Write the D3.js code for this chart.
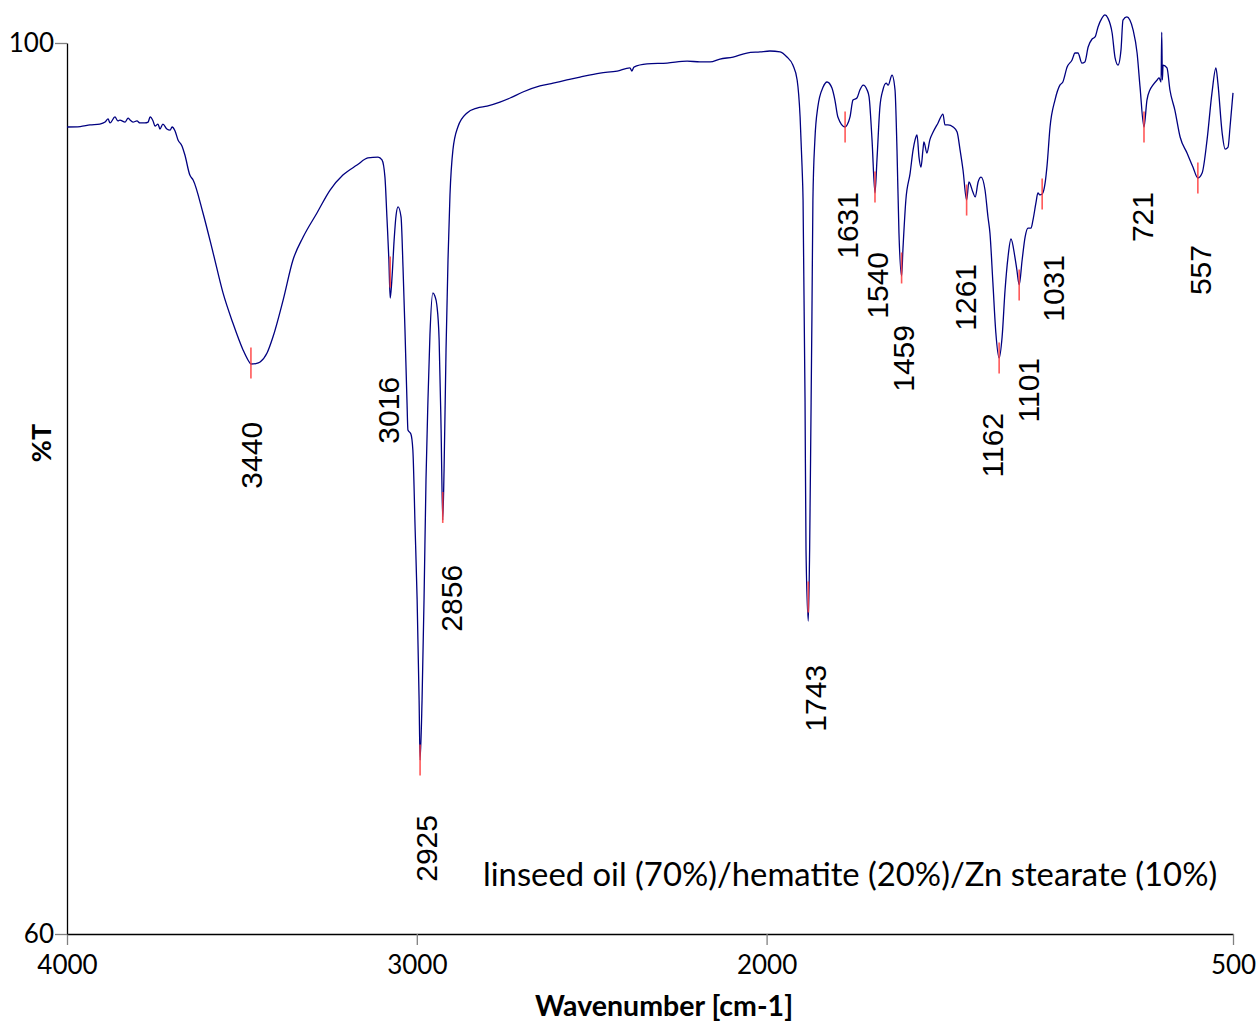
<!DOCTYPE html>
<html><head><meta charset="utf-8">
<script src="https://cdn.jsdelivr.net/npm/d3@7"></script>
<style>body{margin:0;background:#fff}svg{display:block}</style>
</head><body>
<svg id="chart" width="1260" height="1026"></svg>
<script>
// ---- data (wavenumber in cm-1, %T) ----
const wavenumber = [4000,3960,3930,3900,3884,3875,3869,3854,3845,3839,3823,3814,3808,3799,3787,3778,3763,3753,3747,3738,3732,3723,3717,3708,3696,3686,3680,3671,3662,3650,3641,3626,3616,3586,3555,3525,3495,3464,3449,3440,3425,3412,3391,3373,3342,3312,3281,3239,3199,3160,3117,3084,3053,3041,3032,3026,3020,3016,3010,3004,2998,2992,2983,2977,2971,2965,2962,2953,2947,2940,2934,2928,2925,2919,2913,2907,2901,2895,2886,2880,2874,2867,2861,2856,2852,2846,2840,2834,2825,2810,2782,2752,2721,2682,2651,2612,2560,2520,2478,2438,2377,2325,2286,2280,2274,2234,2173,2112,2073,2042,2012,1972,1930,1890,1860,1829,1808,1790,1777,1768,1762,1759,1753,1750,1743,1739,1735,1732,1729,1723,1714,1698,1686,1671,1662,1653,1631,1625,1616,1607,1595,1586,1576,1564,1558,1549,1540,1534,1525,1516,1506,1500,1488,1479,1473,1467,1459,1455,1446,1433,1424,1418,1412,1406,1400,1394,1391,1382,1373,1363,1348,1333,1327,1318,1302,1290,1281,1272,1261,1254,1242,1235,1226,1217,1205,1196,1190,1181,1172,1162,1153,1144,1135,1126,1114,1108,1101,1092,1083,1074,1065,1059,1050,1044,1038,1031,1022,1016,1007,992,977,968,955,940,931,922,910,901,891,879,870,861,849,840,831,818,809,800,791,785,773,764,754,742,733,721,712,703,694,681,675,669,667,665,663,651,642,627,611,590,572,557,544,529,514,502,496,483,474,465,459,450];
const transmittance = [96.23,96.25,96.32,96.36,96.45,96.59,96.41,96.68,96.50,96.54,96.45,96.63,96.54,96.45,96.50,96.41,96.41,96.45,96.68,96.50,96.27,96.36,96.14,96.36,96.14,96.09,96.23,96.05,95.65,95.38,94.97,94.07,93.85,92.37,90.57,88.78,87.43,86.22,85.77,85.59,85.61,85.68,86.08,86.80,88.46,90.26,91.29,92.37,93.40,94.07,94.52,94.84,94.88,94.75,93.98,92.19,90.26,88.55,89.58,91.16,92.28,92.64,92.19,89.94,87.12,83.97,82.63,82.45,81.73,78.14,75.00,70.51,67.81,70.51,75.00,80.38,83.97,86.89,88.78,88.64,88.24,86.67,82.63,78.59,80.83,86.22,90.26,93.18,95.20,96.23,96.86,97.08,97.17,97.35,97.53,97.80,98.07,98.20,98.34,98.47,98.65,98.74,98.88,98.74,98.92,99.06,99.10,99.19,99.15,99.15,99.28,99.37,99.55,99.60,99.64,99.60,99.37,99.01,98.34,96.68,94.43,92.95,83.97,77.24,74.05,77.24,83.08,87.70,92.95,95.65,97.13,98.02,98.25,97.98,97.44,96.68,96.23,96.32,96.68,97.44,97.53,97.89,98.11,97.89,97.58,95.65,93.27,94.75,97.13,97.89,98.20,98.11,98.56,97.89,95.20,91.47,89.54,90.71,92.95,94.16,95.20,95.65,95.87,94.88,94.43,95.20,95.56,95.06,95.65,96.00,96.41,96.81,96.32,96.32,96.23,96.00,95.20,94.30,92.95,93.76,93.31,93.09,93.76,93.98,93.40,92.19,91.47,89.23,86.98,85.86,86.80,88.91,90.39,91.20,90.39,89.81,89.14,90.26,91.29,91.69,91.69,92.05,92.82,93.27,93.18,93.22,93.72,94.52,96.23,97.44,98.11,98.25,98.92,99.24,99.55,99.55,99.10,99.15,99.82,100.18,100.27,100.72,101.12,101.26,101.12,100.45,99.33,99.01,99.69,101.03,101.17,101.03,100.58,99.55,98.02,96.23,97.44,97.89,98.11,98.34,98.43,98.25,100.49,98.34,99.01,98.88,97.89,96.99,95.78,95.06,94.43,93.94,94.16,95.65,97.76,98.88,98.20,95.96,95.24,95.33,96.23,97.76];

// peak annotations
const peakWavenumber    = [3440, 3016, 2925, 2856, 1743, 1631, 1540, 1459, 1261, 1162, 1101, 1031, 721, 557];
const peakTransmittance = [85.59, 88.55, 67.81, 78.59, 74.05, 96.23, 93.27, 89.54, 92.95, 85.86, 89.14, 93.22, 96.23, 93.94];
const peakMarkCenter    = [85.63, 89.72, 67.81, 79.15, 75.13, 96.23, 93.54, 89.90, 92.95, 85.86, 89.14, 93.22, 96.23, 93.94];
const peakLabelWavenumber = [3440, 3023, 2907, 2831, 1723, 1625, 1534, 1455, 1266, 1184, 1074, 998, 727, 550];
const peakLabelTop      = [82.99, 85.01, 65.34, 76.57, 72.08, 93.31, 90.62, 87.34, 90.08, 83.39, 85.86, 90.48, 93.31, 90.93];

// axes
const xTickValues = [4000, 3000, 2000, 500];
const yTickValues = [100, 60];
const xTitle = "Wavenumber [cm-1]";
const yTitle = "%T";
const sampleText = "linseed oil (70%)/hematite (20%)/Zn stearate (10%)";

// ---- layout ----
const svg = d3.select("#chart");
const L = 67, R = 1233, T = 43, B = 934;
const x = d3.scaleLinear().domain([4000, 450]).range([L, R]);
const y = d3.scaleLinear().domain([100, 60]).range([T, B]);
// axis labelling of the original: 4000–2000 occupies 60% of the width, 2000–500 the rest
const xAxisScale = d3.scaleLinear().domain([4000, 2000, 500]).range([L, L + 0.6 * (R - L), R]);

const tickFont = "Lato, 'Open Sans', sans-serif";

// x axis
const gx = svg.append("g").attr("transform", `translate(0,${B})`)
  .call(d3.axisBottom(xAxisScale).tickValues(xTickValues).tickSize(11).tickSizeOuter(0).tickPadding(11).tickFormat(d3.format("d")));
gx.select(".domain").attr("stroke", "#000").attr("stroke-width", 1.3);
gx.selectAll(".tick line").attr("stroke", "#808080").attr("stroke-width", 1.3);
gx.selectAll(".tick text").attr("font-family", tickFont).attr("font-size", 26).attr("fill", "#000");

// y axis
const gy = svg.append("g").attr("transform", `translate(${L},0)`)
  .call(d3.axisLeft(y).tickValues(yTickValues).tickSize(12).tickSizeOuter(0).tickPadding(1).tickFormat(d3.format("d")));
gy.select(".domain").attr("stroke", "#000").attr("stroke-width", 1.3);
gy.selectAll(".tick line").attr("stroke", "#808080").attr("stroke-width", 1.3);
gy.selectAll(".tick text").attr("font-family", tickFont).attr("font-size", 26).attr("fill", "#000");

// titles
svg.append("text").attr("x", 664).attr("y", 1016)
  .attr("text-anchor", "middle").attr("font-family", tickFont).attr("font-weight", "bold")
  .attr("font-size", 28.5).text(xTitle);
svg.append("text").attr("transform", `translate(51,443) rotate(-90)`)
  .attr("text-anchor", "middle").attr("font-family", tickFont).attr("font-weight", "bold")
  .attr("font-size", 27).text(yTitle);

// spectrum
const data = wavenumber.map((v, i) => ({v, t: transmittance[i]}));
svg.append("path").datum(data)
  .attr("fill", "none").attr("stroke", "#000080").attr("stroke-width", 1.3)
  .attr("stroke-linejoin", "round")
  .attr("d", d3.line().curve(d3.curveMonotoneX).x(d => x(d.v)).y(d => y(d.t)));

// peak markers
const peaks = peakWavenumber.map((v, i) => ({v, t: peakTransmittance[i], m: peakMarkCenter[i],
  lv: peakLabelWavenumber[i], lt: peakLabelTop[i]}));
svg.append("g").selectAll("line").data(peaks).join("line")
  .attr("x1", d => x(d.v)).attr("x2", d => x(d.v))
  .attr("y1", d => y(d.m) - 15.5).attr("y2", d => y(d.m) + 15.5)
  .attr("stroke", "#ff3b3b").attr("stroke-opacity", 0.85).attr("stroke-width", 1.6);

// peak labels
svg.append("g").selectAll("text").data(peaks).join("text")
  .attr("transform", d => `translate(${x(d.lv)},${y(d.lt)}) rotate(-90)`)
  .attr("text-anchor", "end").attr("dy", "0.36em")
  .attr("font-family", "'Liberation Sans', Arial, sans-serif").attr("font-size", 30)
  .attr("fill", "#000").text(d => d.v);

// sample description
svg.append("text").attr("x", 483).attr("y", 886)
  .attr("font-family", tickFont).attr("font-size", 32.8).attr("fill", "#000")
  .text(sampleText);
</script>
</body></html>
